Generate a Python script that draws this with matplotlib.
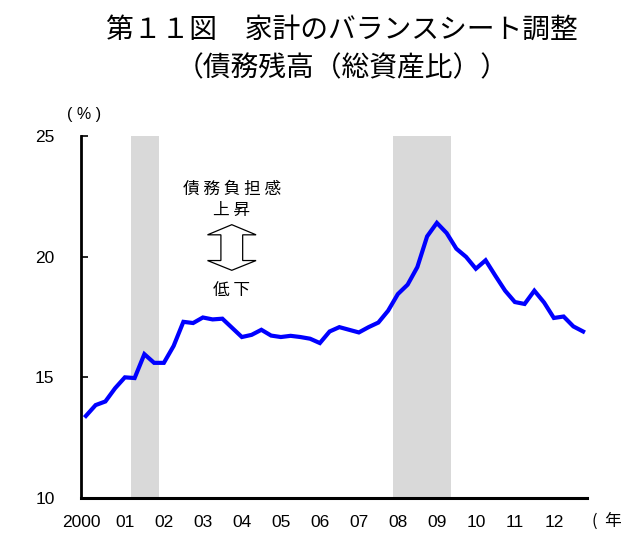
import matplotlib
matplotlib.use("Agg")
import matplotlib.pyplot as plt
import matplotlib.transforms as mtransforms
from matplotlib.patches import Polygon

plt.rcParams['font.family'] = ['Noto Sans CJK JP', 'DejaVu Sans']

# quarterly, 2000Q1 .. 2012Q4
debt_ratio = [13.40, 13.85, 14.00, 14.55, 15.00, 14.97, 15.96, 15.60,
              15.60, 16.30, 17.30, 17.25, 17.48, 17.40, 17.43, 17.05,
              16.67, 16.76, 16.97, 16.73, 16.67, 16.72, 16.67, 16.60,
              16.42, 16.90, 17.08, 16.97, 16.86, 17.08, 17.27, 17.76,
              18.45, 18.84, 19.57, 20.84, 21.40, 20.98, 20.33, 19.99,
              19.50, 19.85, 19.21, 18.59, 18.12, 18.04, 18.59, 18.10,
              17.46, 17.52, 17.11, 16.90]
year_labels = ["2000", "01", "02", "03", "04", "05", "06",
               "07", "08", "09", "10", "11", "12"]
# recession periods, in quarter index units
recessions = [(4.6, 7.55), (31.5, 37.5)]
y_ticks = [10, 15, 20, 25]

quarters = list(range(len(debt_ratio)))

fig = plt.figure(figsize=(6.29, 5.42), dpi=100)
ax = fig.add_axes([81 / 629, 1 - 498 / 542, 506 / 629, 362 / 542])

for start, end in recessions:
    ax.axvspan(start, end, color='#d9d9d9', lw=0, zorder=0)

ax.plot(quarters, debt_ratio, color='#0000ff', lw=3, solid_joinstyle='miter', zorder=3)

ax.set_xlim(-0.5, 51.4)
ax.set_ylim(10, 25)
ax.set_yticks(y_ticks)
ax.set_yticklabels([str(v) for v in y_ticks], family='Liberation Sans', fontsize=12.5)
ax.tick_params(axis='y', direction='in', length=5, width=1.2, pad=19)
ax.set_xticks([4 * i for i in range(len(year_labels))])
ax.set_xticklabels(year_labels, family='Liberation Sans', fontsize=12.5)
ax.tick_params(axis='x', length=0, pad=12)
lab0 = ax.get_xticklabels()[0]
lab0.set_transform(lab0.get_transform() + mtransforms.ScaledTranslation(-4 / 100, 0, fig.dpi_scale_trans))

for s in ['top', 'right']:
    ax.spines[s].set_visible(False)
ax.spines['left'].set_linewidth(2)
ax.spines['bottom'].set_linewidth(2.2)

# unit labels
fig.text(84 / 629, 1 - 115 / 542, "( % )", ha='center', va='center', fontsize=11.5, family='Liberation Sans')
fig.text(592 / 629, 1 - 521 / 542, "(  年", ha='left', va='center', fontsize=12)

# title
fig.text(0.544, 1 - 30 / 542, "第１１図　家計のバランスシート調整", ha='center', va='center', fontsize=20)
fig.text(0.544, 1 - 68 / 542, "（債務残高（総資産比））", ha='center', va='center', fontsize=20)

# annotation with double arrow
ax.text(0.298, 0.852, "債 務 負 担 感", transform=ax.transAxes, ha='center', va='center', fontsize=12)
ax.text(0.298, 0.794, "上 昇", transform=ax.transAxes, ha='center', va='center', fontsize=12)
ax.text(0.298, 0.574, "低 下", transform=ax.transAxes, ha='center', va='center', fontsize=12)
cx, hw, sw = 0.298, 0.048, 0.0215
arrow = Polygon([(cx, 0.755), (cx + hw, 0.727), (cx + sw, 0.727), (cx + sw, 0.656),
                 (cx + hw, 0.656), (cx, 0.629), (cx - hw, 0.656), (cx - sw, 0.656),
                 (cx - sw, 0.727), (cx - hw, 0.727)],
                closed=True, transform=ax.transAxes, facecolor='white', edgecolor='black', lw=0.9)
ax.add_patch(arrow)

fig.savefig("out.png", dpi=100)
